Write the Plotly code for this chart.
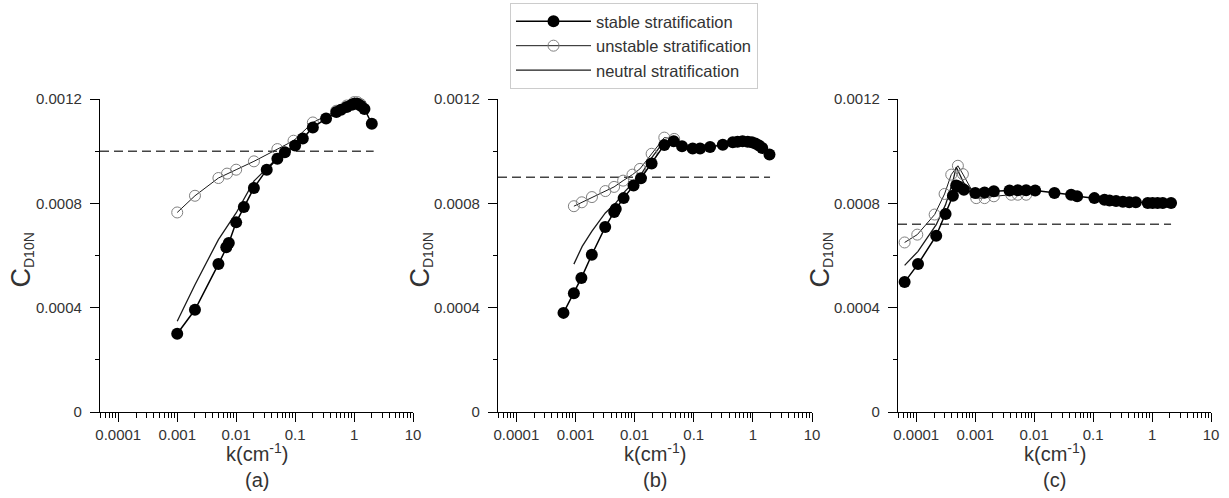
import numpy as np
import plotly.graph_objects as go

# ---------------- data ----------------
# panel (a)
a_stable_k = [0.001, 0.002, 0.005, 0.0068, 0.0075, 0.01, 0.0135, 0.02, 0.033, 0.05, 0.067, 0.1, 0.135, 0.2,
              0.335, 0.5, 0.6, 0.75, 0.915, 1.0, 1.14, 1.3, 1.5, 2.0]
a_stable_c = [0.000300, 0.000392, 0.000567, 0.000632, 0.000648, 0.000727, 0.000786, 0.000859, 0.000929, 0.000971,
              0.000996, 0.001022, 0.001049, 0.001091, 0.001125, 0.001150, 0.001159, 0.001169, 0.001178, 0.001182,
              0.001182, 0.001174, 0.001162, 0.001105]
a_unstable_k = [0.001, 0.002, 0.005, 0.007, 0.01, 0.02, 0.05, 0.094, 0.2, 0.5, 0.75, 1.0, 1.14, 1.3]
a_unstable_c = [0.000765, 0.000829, 0.000897, 0.000914, 0.000929, 0.000961, 0.001008, 0.001040, 0.001110,
                0.001155, 0.001175, 0.001188, 0.001188, 0.001180]
a_neutral_k = [0.001, 0.002, 0.005, 0.01, 0.02, 0.033, 0.05, 0.078, 0.1]
a_neutral_c = [0.000348, 0.000488, 0.000661, 0.000763, 0.000885, 0.000935, 0.000975, 0.001000, 0.001019]

# panel (b)
b_stable_k = [0.000627, 0.00094, 0.00126, 0.00189, 0.00318, 0.00452, 0.0048, 0.00652, 0.0096, 0.0128, 0.0194,
              0.0318, 0.0458, 0.0634, 0.096, 0.128, 0.189, 0.31, 0.458, 0.55, 0.67, 0.82, 0.96, 1.1, 1.27,
              1.44, 1.91]
b_stable_c = [0.000380, 0.000455, 0.000514, 0.000603, 0.000709, 0.000767, 0.000778, 0.000820, 0.000868,
              0.000896, 0.000953, 0.001024, 0.001038, 0.001019, 0.001010, 0.001010, 0.001016, 0.001025,
              0.001034, 0.001036, 0.001038, 0.001036, 0.001034, 0.001029, 0.001022, 0.001012, 0.000987]
b_unstable_k = [0.00094, 0.00128, 0.0019, 0.0032, 0.0045, 0.0064, 0.0092, 0.0123, 0.0194, 0.0318, 0.0467]
b_unstable_c = [0.000789, 0.000804, 0.000824, 0.000847, 0.000863, 0.000887, 0.000910, 0.000932, 0.000990,
                0.001052, 0.001047]
b_neutral_k = [0.00094, 0.0013, 0.0019, 0.0032, 0.0048, 0.0065, 0.0096, 0.0128, 0.0194, 0.032]
b_neutral_c = [0.000567, 0.000635, 0.000693, 0.000763, 0.000801, 0.000840, 0.000880, 0.000910, 0.000974,
               0.001040]

# panel (c)
c_stable_k = [0.0000634, 0.000107, 0.000218, 0.000314, 0.000418, 0.000476, 0.00052, 0.000643, 0.001, 0.00144,
              0.00207, 0.00382, 0.00528, 0.00731, 0.0104, 0.0221, 0.0424, 0.0536, 0.105, 0.156, 0.19, 0.245,
              0.32, 0.41, 0.53, 0.845, 1.02, 1.24, 1.52, 2.1]
c_stable_c = [0.000498, 0.000567, 0.000676, 0.000759, 0.000829, 0.000868, 0.000865, 0.000852, 0.000840,
              0.000842, 0.000846, 0.000849, 0.000850, 0.000850, 0.000849, 0.000840, 0.000833, 0.000827,
              0.000820, 0.000814, 0.000811, 0.000809, 0.000806, 0.000804, 0.000804, 0.000801, 0.000801,
              0.000801, 0.000801, 0.000801]
c_unstable_k = [0.0000634, 0.000104, 0.000205, 0.000302, 0.000392, 0.000508, 0.000618, 0.00104, 0.00144,
                0.00207, 0.0041, 0.00528, 0.00731]
c_unstable_c = [0.000650, 0.000680, 0.000757, 0.000836, 0.000910, 0.000944, 0.000912, 0.000820, 0.000820,
                0.000827, 0.000833, 0.000833, 0.000833]
c_neutral_k = [0.0000634, 0.000107, 0.000218, 0.000314, 0.000418, 0.000476, 0.00064, 0.001, 0.002]
c_neutral_c = [0.000562, 0.000616, 0.000718, 0.000795, 0.000884, 0.000939, 0.000878, 0.000840, 0.000845]

ref_levels = [0.001, 0.0009, 0.00072]
dash_end_k = [2.15, 1.95, 2.1]
panel_labels = ["(a)", "(b)", "(c)"]

x_tick_vals = [0.0001, 0.001, 0.01, 0.1, 1, 10]
x_tick_text = ["0.0001", "0.001", "0.01", "0.1", "1", "10"]
y_tick_vals = [0, 0.0004, 0.0008, 0.0012]
y_tick_text = ["0", "0.0004", "0.0008", "0.0012"]

panels = [
    (a_stable_k, a_stable_c, a_unstable_k, a_unstable_c, a_neutral_k, a_neutral_c),
    (b_stable_k, b_stable_c, b_unstable_k, b_unstable_c, b_neutral_k, b_neutral_c),
    (c_stable_k, c_stable_c, c_unstable_k, c_unstable_c, c_neutral_k, c_neutral_c),
]

# ---------------- layout geometry ----------------
W, H = 1229, 498
x_left_px = [100, 498, 898]
x_right_px = [413, 812, 1211]
y_top_px, y_bot_px = 99, 412
ytitle_px = [3, 402, 802]
x_log_min, x_log_max = -4.31, 1.0

minor_vals = [m * 10.0 ** d for d in range(-5, 1) for m in range(2, 10)
              if x_log_min <= np.log10(m * 10.0 ** d) <= x_log_max]

fig = go.Figure()
font_fam = "Liberation Sans, Arial, sans-serif"
txt_col = "#333333"

for i, (sk, sc, uk, uc, nk, nc) in enumerate(panels):
    xa = "x" if i == 0 else f"x{i+1}"
    ya = "y" if i == 0 else f"y{i+1}"
    # dashed reference
    fig.add_trace(go.Scatter(x=[10 ** x_log_min, dash_end_k[i]], y=[ref_levels[i]] * 2, mode="lines",
                             line=dict(color="#444444", width=1.5, dash="9px,5px"),
                             showlegend=False, xaxis=xa, yaxis=ya, hoverinfo="skip"))
    # neutral
    fig.add_trace(go.Scatter(x=nk, y=nc, mode="lines", line=dict(color="#1a1a1a", width=1.3),
                             name="neutral stratification", legendgroup="n", legendrank=3,
                             showlegend=(i == 0), xaxis=xa, yaxis=ya))
    # unstable
    fig.add_trace(go.Scatter(x=uk, y=uc, mode="lines+markers", line=dict(color="#1a1a1a", width=1),
                             marker=dict(symbol="circle-open", size=11, color="#808080", line=dict(width=1)),
                             name="unstable stratification", legendgroup="u", legendrank=2,
                             showlegend=(i == 0), xaxis=xa, yaxis=ya, cliponaxis=False))
    # stable
    fig.add_trace(go.Scatter(x=sk, y=sc, mode="lines+markers", line=dict(color="#000000", width=1.5),
                             marker=dict(symbol="circle", size=12, color="#000000"),
                             name="stable stratification", legendgroup="s", legendrank=1,
                             showlegend=(i == 0), xaxis=xa, yaxis=ya, cliponaxis=False))

    xkey = "xaxis" if i == 0 else f"xaxis{i+1}"
    ykey = "yaxis" if i == 0 else f"yaxis{i+1}"
    fig.layout[xkey] = dict(
        type="log", range=[x_log_min, x_log_max],
        domain=[x_left_px[i] / W, x_right_px[i] / W],
        anchor=ya, showgrid=False, zeroline=False,
        showline=True, linecolor="#000000", linewidth=1.3,
        ticks="outside", ticklen=9, tickwidth=1.2, tickcolor="#000000",
        tickvals=x_tick_vals, ticktext=x_tick_text, tickangle=0,
        tickfont=dict(size=15, color=txt_col, family=font_fam),
        minor=dict(ticks="outside", ticklen=5, tickwidth=1, tickcolor="#000000", tickvals=minor_vals),
        fixedrange=True, automargin=False,
    )
    fig.layout[ykey] = dict(
        range=[0, 0.0012],
        domain=[1 - y_bot_px / H, 1 - y_top_px / H],
        anchor=xa, showgrid=False, zeroline=False,
        showline=True, linecolor="#000000", linewidth=1.3,
        ticks="outside", ticklen=9, tickwidth=1.2, tickcolor="#000000",
        tickvals=y_tick_vals, ticktext=y_tick_text,
        tickfont=dict(size=15, color=txt_col, family=font_fam),
        ticklabelstandoff=5,
        minor=dict(ticks="outside", ticklen=4, tickwidth=1, tickcolor="#000000", dtick=0.0002),
        fixedrange=True, automargin=False,
    )
    cx = (x_left_px[i] + x_right_px[i]) / 2 / W
    fig.add_annotation(x=cx, y=1 - 452 / H, xref="paper", yref="paper", showarrow=False,
                       text="k(cm<sup>-1</sup>)", font=dict(size=20, color=txt_col, family=font_fam),
                       xanchor="center", yanchor="middle")
    fig.add_annotation(x=cx, y=1 - 480 / H, xref="paper", yref="paper", showarrow=False,
                       text=panel_labels[i], font=dict(size=20, color=txt_col, family=font_fam),
                       xanchor="center", yanchor="middle")
    fig.add_annotation(x=ytitle_px[i] / W, y=1 - 260 / H, xref="paper", yref="paper", showarrow=False,
                       text="<span style='font-size:27px'>C</span><sub>D10N</sub>", textangle=-90,
                       font=dict(size=20, color=txt_col, family=font_fam),
                       xanchor="left", yanchor="middle")

fig.update_layout(
    width=W, height=H, margin=dict(l=0, r=0, t=0, b=0, autoexpand=False),
    paper_bgcolor="white", plot_bgcolor="white",
    font=dict(family=font_fam, color=txt_col),
    showlegend=True,
    legend=dict(x=510 / W, y=1 - 3 / H,
                xanchor="left", yanchor="top",
                bordercolor="#cccccc", borderwidth=1, bgcolor="white",
                font=dict(size=16.5, color=txt_col, family=font_fam),
                itemwidth=75, tracegroupgap=3, traceorder="normal"),
)

fig.write_html("out.html", config={"displayModeBar": False},
               post_script="document.body.style.margin='0';document.body.style.overflow='hidden';")
